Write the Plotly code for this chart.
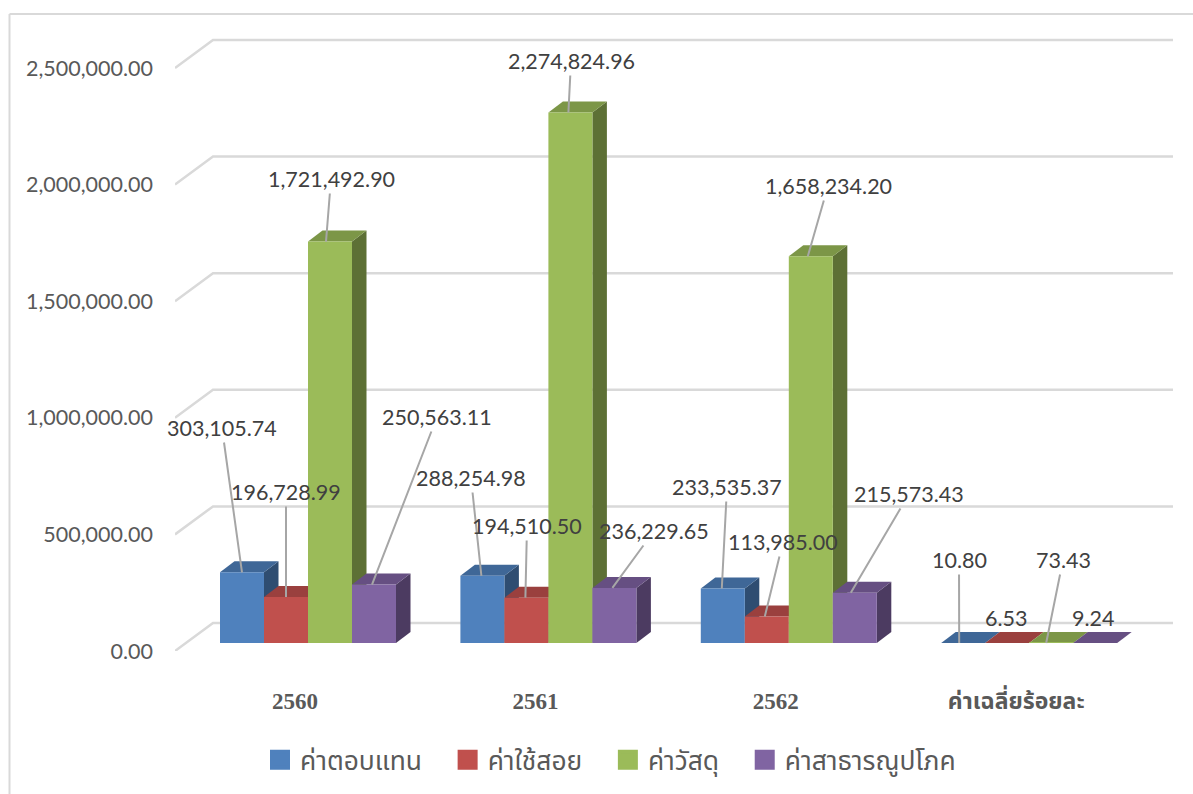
import plotly.graph_objects as go

# ---- data ----
categories = ["2560", "2561", "2562", "ค่าเฉลี่ยร้อยละ"]
series_names = ["ค่าตอบแทน", "ค่าใช้สอย", "ค่าวัสดุ", "ค่าสาธารณูปโภค"]
compensation = [303105.74, 288254.98, 233535.37, 10.80]
operating = [196728.99, 194510.50, 113985.00, 6.53]
materials = [1721492.90, 2274824.96, 1658234.20, 73.43]
utilities = [250563.11, 236229.65, 215573.43, 9.24]
y_ticks = [0, 500000, 1000000, 1500000, 2000000, 2500000]

# ---- styles ----
front_colors = ["#4F81BD", "#C0504D", "#9BBB59", "#8064A2"]
top_colors = ["#3F6797", "#9A403E", "#7C9647", "#664F82"]
side_colors = ["#2F4D71", "#73302E", "#5D7035", "#4C3B61"]
GRID = "#D9D9D9"
LABEL_FONT = "Lato, Carlito, Calibri, sans-serif"
THAI_FONT = "'Noto Sans Thai', 'Noto Sans', 'DejaVu Sans', sans-serif"

# ---- pixel geometry of the page ----
W, H = 1193, 794
PL, PR, PT, PB = 175, 1173, 30, 651      # plot box
BASE_PX = 643                             # pixel of value 0 on the bars' front plane
K = 583 / 2500000                         # px per value
PITCH = 240.4                             # px per category
GROUP0 = 308                              # pixel of first category centre
BAR_W = 44
DEPTH_X, DEPTH_Y = 14.5, 11               # bar depth
WALL_X, WALL_Y, WALL_UP = 38, 28, 8       # floor depth, and shift of front plane


def dx(px):
    return px / PITCH


def dv(px):
    return px / K


def paper_x(px):
    return (px - PL) / (PR - PL)


def paper_y(px):
    return (PB - px) / (PB - PT)


x_range = [(PL - GROUP0) / PITCH, (PR - GROUP0) / PITCH]
y_range = [(BASE_PX - PB) / K, (BASE_PX - PT) / K]

all_series = [compensation, operating, materials, utilities]
shapes = []

# outer frame
for x0, y0, x1, y1 in [(9.5, 14, W, 14), (9.5, 14, 9.5, H)]:
    shapes.append(dict(type="line", xref="paper", yref="paper", x0=paper_x(x0), x1=paper_x(x1),
                       y0=paper_y(y0), y1=paper_y(y1), line=dict(color=GRID, width=2), layer="below"))

# back wall gridlines, with their floor diagonal
for t in y_ticks:
    fx, bx = x_range[0], x_range[0] + dx(WALL_X)
    fy, by = t - dv(PB - BASE_PX), t + dv(WALL_Y - (PB - BASE_PX))
    shapes.append(dict(type="path", xref="x", yref="y", layer="below",
                       path=f"M{fx},{fy} L{bx},{by} L{x_range[1]},{by}",
                       line=dict(color=GRID, width=2.5), fillcolor="rgba(0,0,0,0)"))

# side and top faces, painted left to right behind the front faces
for c in range(len(categories)):
    for s, values in enumerate(all_series):
        v = values[c]
        x0 = c + dx(BAR_W) * (s - 2)
        x1 = x0 + dx(BAR_W)
        ox, oy = dx(DEPTH_X), dv(DEPTH_Y)
        shapes.append(dict(type="path", xref="x", yref="y", layer="below", line=dict(width=0),
                           fillcolor=side_colors[s],
                           path=f"M{x1},0 L{x1 + ox},{oy} L{x1 + ox},{v + oy} L{x1},{v} Z"))
        shapes.append(dict(type="path", xref="x", yref="y", layer="below", line=dict(width=0),
                           fillcolor=top_colors[s],
                           path=f"M{x0},{v} L{x0 + ox},{v + oy} L{x1 + ox},{v + oy} L{x1},{v} Z"))

fig = go.Figure()
for s, values in enumerate(all_series):
    fig.add_trace(go.Bar(x=list(range(len(categories))), y=values, name=series_names[s],
                         marker=dict(color=front_colors[s], line=dict(width=0)),
                         showlegend=False, hoverinfo="skip"))
# legend keys
LEGEND_PAD = "\u00a0" * 3
for s, name in enumerate(series_names):
    fig.add_trace(go.Scatter(x=[None], y=[None], mode="markers", name=name + LEGEND_PAD,
                             marker=dict(symbol="square", size=16, color=front_colors[s],
                                         line=dict(color=front_colors[s], width=4))))

# data labels: label centre pixel, and how far the leader's end sits from bar centre
label_centres = [
    [(222, 428), (286, 492), (331, 179), (437, 417)],
    [(471, 478), (527, 526), (571, 61), (654, 531)],
    [(727, 487), (783, 542), (828, 186), (909, 494)],
    [(959, 560), (1006, 618), (1063, 560), (1093, 618)],
]
leader_shift = [
    [0, 0, -4, -2],
    [-1, -1, -2, -2],
    [-1, -2, -3, -4],
    [-4, 0, -5, 0],
]
no_leader = {(3, 1), (3, 3)}
fmt = "{:,.2f}"
annotations = []
for c in range(len(categories)):
    for s, values in enumerate(all_series):
        v = values[c]
        centre_px = GROUP0 + PITCH * c + BAR_W * (s - 1.5)
        lx, ly = label_centres[c][s]
        shift = leader_shift[c][s]
        head_y = BASE_PX - v * K
        annotations.append(dict(
            x=c + dx(BAR_W) * (s - 1.5) + dx(shift), y=v, xref="x", yref="y",
            text=fmt.format(v), font=dict(family=LABEL_FONT, size=21.5, color="#404040"),
            showarrow=(c, s) not in no_leader, arrowhead=0, arrowwidth=2, arrowcolor="#A6A6A6",
            axref="pixel", ayref="pixel", ax=lx - (centre_px + shift), ay=ly - head_y,
            standoff=0, startstandoff=0,
            **({} if (c, s) not in no_leader else dict(xshift=lx - (centre_px + shift), yshift=head_y - ly)),
        ))

fig.update_layout(
    width=W, height=H, margin=dict(l=PL, r=W - PR, t=PT, b=H - PB, pad=0, autoexpand=False),
    paper_bgcolor="white", plot_bgcolor="rgba(0,0,0,0)",
    barmode="group", bargap=1 - 4 * BAR_W / PITCH, bargroupgap=0,
    shapes=shapes, annotations=annotations,
    xaxis=dict(range=x_range, tickmode="array", tickvals=list(range(len(categories))), ticktext=categories,
               showgrid=False, zeroline=False, showline=False, ticks="",
               ticklabelstandoff=34, ticklabelshift=-13,
               tickfont=dict(family=f"'Liberation Serif', {THAI_FONT}", size=23, color="#595959", weight="bold")),
    yaxis=dict(range=y_range, tickmode="array", tickvals=y_ticks, tickformat=",.2f",
               showgrid=False, zeroline=False, showline=False, ticks="",
               ticklabelstandoff=21, ticklabelshift=8,
               tickfont=dict(family=LABEL_FONT, size=21.5, color="#595959")),
    legend=dict(orientation="h", x=paper_x(260), xanchor="left", y=paper_y(760), yanchor="middle",
                font=dict(family=THAI_FONT, size=26.4, color="#595959"), bgcolor="rgba(0,0,0,0)",
                itemclick=False, itemdoubleclick=False),
    hovermode=False,
)
fig.write_html("out.html", post_script="document.body.style.margin='0';document.body.style.overflow='hidden';",
               config=dict(displayModeBar=False))
